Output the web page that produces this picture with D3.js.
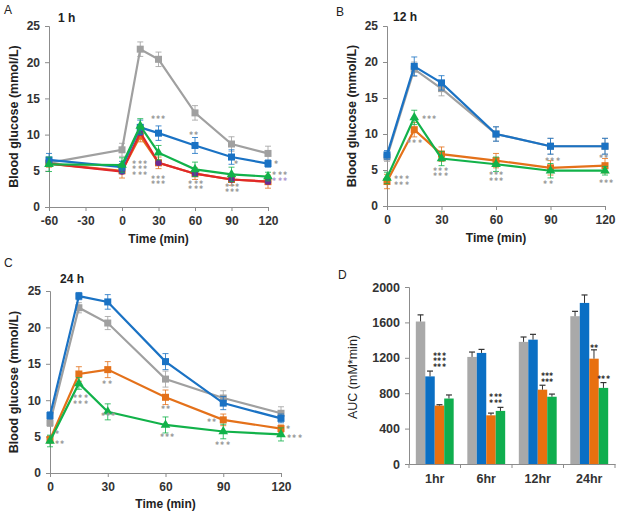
<!DOCTYPE html>
<html><head><meta charset="utf-8">
<script src="https://cdn.jsdelivr.net/npm/d3@7"></script>
<style>body{margin:0;background:#fff} text{font-family:"Liberation Sans",Arial,sans-serif}</style>
</head><body><svg id="c" width="620" height="518"></svg>
<script>
// ---------- DATA ----------
const timesA = [-60, 0, 15, 30, 60, 90, 120];
const timesBC = [0, 15, 30, 60, 90, 120];
const ticksA = [-60, -30, 0, 30, 60, 90, 120];
const ticksBC = [0, 30, 60, 90, 120];
const ticksGlucose = [0, 5, 10, 15, 20, 25];

const A_gray   = [6.1, 7.9, 21.8, 20.4, 13.0, 8.7, 7.4];
const A_blue   = [6.5, 5.5, 11.0, 10.2, 8.5, 6.9, 6.0];
const A_green  = [5.9, 5.8, 11.2, 7.5, 5.2, 4.5, 4.2];
const A_orange = [6.0, 5.0, 9.8, 6.1, 4.6, 3.8, 3.5];
const A_red    = [6.0, 4.9, 10.3, 6.1, 4.6, 3.8, 3.5];
const A_grayErr   = [0.0, 0.9, 1.0, 1.0, 1.0, 1.0, 1.0];
const A_blueErr   = [0.9, 0.8, 1.0, 1.0, 1.1, 1.0, 0.5];
const A_greenErr  = [1.0, 1.0, 1.0, 1.0, 1.0, 1.0, 0.6];
const A_orangeErr = [0.5, 1.0, 0.8, 0.8, 0.8, 0.8, 0.9];
const A_redErr    = [0.3, 0.3, 0.3, 0.3, 0.3, 0.3, 0.3];

const B_gray   = [6.8, 19.0, 16.3, 10.0, 8.3, 8.3];
const B_blue   = [7.1, 19.4, 17.1, 10.0, 8.3, 8.3];
const B_orange = [3.4, 10.6, 7.2, 6.3, 5.3, 5.6];
const B_green  = [3.9, 12.3, 6.6, 5.8, 4.9, 4.9];
const B_grayErr   = [0.6, 1.0, 1.0, 1.0, 1.1, 1.1];
const B_blueErr   = [0.6, 1.3, 1.0, 1.0, 1.1, 1.1];
const B_orangeErr = [1.0, 1.0, 1.0, 1.0, 1.0, 1.0];
const B_greenErr  = [0.8, 1.0, 1.0, 1.0, 1.0, 0.6];

const C_gray   = [6.9, 22.7, 20.6, 12.9, 10.3, 8.2];
const C_blue   = [7.9, 24.3, 23.5, 15.3, 9.6, 7.5];
const C_orange = [4.6, 13.6, 14.2, 10.4, 7.3, 6.1];
const C_green  = [4.4, 12.3, 8.4, 6.6, 5.7, 5.3];
const C_grayErr   = [0.5, 0.7, 0.9, 1.1, 1.0, 0.9];
const C_blueErr   = [0.5, 0.5, 1.0, 1.1, 0.9, 0.6];
const C_orangeErr = [0.5, 1.0, 1.1, 1.0, 0.8, 0.5];
const C_greenErr  = [0.8, 0.8, 1.1, 1.1, 1.0, 0.9];

// significance marks: [time, glucose of first row, rows]  (row = count or [count, "p"] for purple)
const A_marks = [[15,6.2,[3,3,3]],[30,12.3,[3]],[30,4.1,[3,3]],
  [59,10.2,[2]],[61,3.4,[3,3]],[94,6.1,[1]],[91,3.0,[3,3]],
  [127,6.2,[1]],[130,4.6,[3,[3,"p"]]]];
const B_marks = [[23.4,12.3,[3]],[15.4,9.0,[3]],[8.3,3.9,[3,3]],[29.7,5.1,[3,3]],
  [60.5,4.5,[3,3]],[91.4,6.5,[3]],[89,3.2,[2]],[119.5,6.9,[2]],[121,3.4,[3]]];
const C_marks = [[4.2,5.5,[1]],[5.2,4.25,[2]],[16.1,10.5,[3,3]],[29.9,12.5,[2]],[30.6,8.0,[3]],
  [60.3,9.0,[2]],[61,5.15,[3]],[84.2,7.2,[2]],[89.9,4.0,[3]],[124.2,6.25,[1]],[127.3,5.0,[3]]];

const aucCats = ["1hr", "6hr", "12hr", "24hr"];
const aucGray   = [1610, 1210, 1380, 1670];
const aucBlue   = [990, 1255, 1405, 1820];
const aucOrange = [660, 550, 840, 1190];
const aucGreen  = [740, 600, 760, 860];
const aucGrayErr   = [75, 55, 55, 55];
const aucBlueErr   = [60, 40, 60, 90];
const aucOrangeErr = [10, 25, 50, 100];
const aucGreenErr  = [40, 40, 30, 60];
const aucTicks = [0, 400, 800, 1200, 1600, 2000];
// [category, bar slot (0..3), value of first row, rows]
const aucMarks = [["1hr",2,1242,[3,3,3]],["6hr",2.5,773,[3,3]],
  ["12hr",2.5,1007,[3,3]],["24hr",2,1328,[2]],["24hr",3,977,[3]]];

// ---------- STYLE ----------
const COL = {gray:"#a0a0a0", blue:"#1a72c4", orange:"#e4711a", green:"#12b24a", red:"#e0282a", purple:"#6a2c96"};
const BAR = {gray:"#a9a9a9", blue:"#0a6fc4", orange:"#e8700f", green:"#0fae4e"};
const AX = "#8c8c8c", TXT = "#333";
const STAR = "\u2731";

const svg = d3.select("#c");

function styleAxis(g){
  g.selectAll("path.domain").attr("stroke", AX).attr("stroke-width", 1);
  g.selectAll(".tick line").attr("stroke", AX);
  g.selectAll(".tick text").attr("fill", TXT).attr("font-weight", "bold")
   .attr("font-size", 12).attr("font-family", '"Liberation Sans",Arial,sans-serif');
}

// stacked significance stars; x,y = centre of first row
function stack(x, y, rows, opts){
  rows.forEach((r, i) => {
    const n = Array.isArray(r) ? r[0] : r;
    svg.append("text").attr("x", x).attr("y", y + i * opts.gap).attr("text-anchor", "middle")
      .attr("dominant-baseline", "central")
      .attr("font-family", '"DejaVu Sans",sans-serif').attr("font-size", opts.size)
      .attr("letter-spacing", opts.ls)
      .attr("fill", Array.isArray(r) ? opts.purple : opts.color)
      .text(STAR.repeat(n));
  });
}

function linePanel(cfg){
  const x = d3.scaleLinear().domain(cfg.xDomain).range([cfg.left, cfg.right]);
  const y = d3.scaleLinear().domain([0, 25]).range([cfg.bottom, cfg.top]);
  const gx = svg.append("g").attr("transform", `translate(0,${cfg.bottom})`)
    .call(d3.axisBottom(x).tickValues(cfg.xTicks).tickSize(4).tickPadding(5).tickFormat(d => String(d)));
  styleAxis(gx);
  const gy = svg.append("g").attr("transform", `translate(${cfg.left},0)`)
    .call(d3.axisLeft(y).tickValues(ticksGlucose).tickSize(4).tickPadding(5).tickFormat(d => String(d)));
  styleAxis(gy);

  const line = d3.line().x(d => x(d[0])).y(d => y(d[1]));
  cfg.series.forEach(s => {
    const pts = cfg.times.map((t, i) => [t, s.vals[i], s.err[i]]);
    const g = svg.append("g");
    pts.forEach(p => {
      if (p[2] <= 0) return;
      const ec = s.errColor || s.line;
      g.append("line").attr("x1", x(p[0])).attr("x2", x(p[0])).attr("y1", y(p[1]-p[2])).attr("y2", y(p[1]+p[2]))
        .attr("stroke", ec).attr("stroke-width", 1).attr("opacity", 0.8);
      [p[1]-p[2], p[1]+p[2]].forEach(v => g.append("line").attr("x1", x(p[0])-3).attr("x2", x(p[0])+3)
        .attr("y1", y(v)).attr("y2", y(v)).attr("stroke", ec).attr("stroke-width", 1).attr("opacity", 0.8));
    });
    g.append("path").datum(pts).attr("d", line).attr("fill", "none").attr("stroke", s.line).attr("stroke-width", 2.2);
    const mk = s.marker || s.line;
    pts.forEach(p => {
      if (s.shape === "tri") {
        g.append("path").attr("d", d3.symbol(d3.symbolTriangle, 40)()).attr("transform", `translate(${x(p[0])},${y(p[1])})`).attr("fill", mk);
      } else if (s.shape === "circle") {
        g.append("circle").attr("cx", x(p[0])).attr("cy", y(p[1])).attr("r", 3.2).attr("fill", mk);
      } else {
        g.append("rect").attr("x", x(p[0])-3.5).attr("y", y(p[1])-3.5).attr("width", 7).attr("height", 7).attr("fill", mk);
      }
    });
  });
  cfg.marks.forEach(m => stack(x(m[0]), y(m[1]), m[2],
    {size: 4.6, ls: 1.2, color: "#9a9a9a", purple: "#b098d0", gap: 5.6}));

  svg.append("text").attr("x", cfg.labelX).attr("y", cfg.labelY).attr("font-size", 12).attr("fill", "#222").text(cfg.label);
  svg.append("text").attr("x", cfg.titleX).attr("y", cfg.titleY).attr("font-size", 12).attr("font-weight", "bold").attr("fill", "#222").text(cfg.title);
  svg.append("text").attr("transform", `translate(${cfg.yTitleX},${(cfg.top+cfg.bottom)/2}) rotate(-90)`)
    .attr("text-anchor", "middle").attr("font-size", 12.5).attr("font-weight", "bold").attr("fill", "#222").text("Blood glucose (mmol/L)");
  svg.append("text").attr("x", (cfg.left+cfg.right)/2).attr("y", cfg.xTitleY).attr("text-anchor", "middle")
    .attr("font-size", 12).attr("font-weight", "bold").attr("fill", "#222").text("Time (min)");
}

linePanel({
  left: 49, right: 268, top: 26, bottom: 207, xDomain: [-60, 120], xTicks: ticksA, times: timesA,
  series: [
    {vals: A_gray, err: A_grayErr, line: COL.gray},
    {vals: A_orange, err: A_orangeErr, line: COL.orange},
    {vals: A_red, err: A_redErr, line: COL.red, marker: COL.purple, shape: "circle"},
    {vals: A_blue, err: A_blueErr, line: COL.blue},
    {vals: A_green, err: A_greenErr, line: COL.green, shape: "tri"}
  ],
  marks: A_marks,
  label: "A", labelX: 4, labelY: 14, title: "1 h", titleX: 58, titleY: 22, yTitleX: 18, xTitleY: 243
});

linePanel({
  left: 387, right: 605, top: 26, bottom: 206, xDomain: [0, 120], xTicks: ticksBC, times: timesBC,
  series: [
    {vals: B_gray, err: B_grayErr, line: COL.gray},
    {vals: B_blue, err: B_blueErr, line: COL.blue},
    {vals: B_orange, err: B_orangeErr, line: COL.orange},
    {vals: B_green, err: B_greenErr, line: COL.green, shape: "tri"}
  ],
  marks: B_marks,
  label: "B", labelX: 336, labelY: 16, title: "12 h", titleX: 393, titleY: 21, yTitleX: 356, xTitleY: 242
});

linePanel({
  left: 50, right: 281, top: 291, bottom: 473, xDomain: [0, 120], xTicks: ticksBC, times: timesBC,
  series: [
    {vals: C_gray, err: C_grayErr, line: COL.gray},
    {vals: C_blue, err: C_blueErr, line: COL.blue},
    {vals: C_orange, err: C_orangeErr, line: COL.orange},
    {vals: C_green, err: C_greenErr, line: COL.green, shape: "tri"}
  ],
  marks: C_marks,
  label: "C", labelX: 4, labelY: 267, title: "24 h", titleX: 60, titleY: 283, yTitleX: 18, xTitleY: 508
});

// ---------- Panel D ----------
(function(){
  const left = 409, right = 615, top = 287, bottom = 464;
  const x = d3.scaleBand().domain(aucCats).range([left, right]).paddingInner(0).paddingOuter(0);
  const groups = ["gray", "blue", "orange", "green"];
  const vals = {gray: aucGray, blue: aucBlue, orange: aucOrange, green: aucGreen};
  const errs = {gray: aucGrayErr, blue: aucBlueErr, orange: aucOrangeErr, green: aucGreenErr};
  const xs = d3.scaleBand().domain(d3.range(4)).range([0, x.bandwidth()]).paddingOuter(0.72).paddingInner(0);
  const y = d3.scaleLinear().domain([0, 2000]).range([bottom, top]);

  const gy = svg.append("g").attr("transform", `translate(${left},0)`)
    .call(d3.axisLeft(y).tickValues(aucTicks).tickSize(4).tickPadding(5).tickFormat(d => String(d)));
  styleAxis(gy);
  gy.selectAll(".tick text").attr("font-size", 12.5);

  groups.forEach((gname, gi) => {
    aucCats.forEach((c, ci) => {
      const v = vals[gname][ci], e = errs[gname][ci];
      const bx = x(c) + xs(gi), bw = xs.bandwidth();
      svg.append("rect").attr("x", bx).attr("y", y(v)).attr("width", bw).attr("height", y(0) - y(v)).attr("fill", BAR[gname]);
      const cx = bx + bw/2;
      svg.append("line").attr("x1", cx).attr("x2", cx).attr("y1", y(v)).attr("y2", y(v+e)).attr("stroke", "#333").attr("stroke-width", 1);
      svg.append("line").attr("x1", cx-3).attr("x2", cx+3).attr("y1", y(v+e)).attr("y2", y(v+e)).attr("stroke", "#333").attr("stroke-width", 1.2);
    });
  });

  const gx = svg.append("g").attr("transform", `translate(0,${bottom})`)
    .call(d3.axisBottom(x).tickSize(0).tickPadding(10));
  styleAxis(gx);
  gx.selectAll(".tick text").attr("font-size", 12.5);
  aucCats.forEach(c => svg.append("line").attr("x1", x(c)).attr("x2", x(c)).attr("y1", bottom).attr("y2", bottom+4).attr("stroke", AX));
  svg.append("line").attr("x1", right).attr("x2", right).attr("y1", bottom).attr("y2", bottom+4).attr("stroke", AX);

  aucMarks.forEach(m => {
    const cx = x(m[0]) + xs(0) + xs.bandwidth() * (m[1] + 0.5);
    stack(cx, y(m[2]), m[3], {size: 4.6, ls: 0.3, color: "#333", gap: 5.8});
  });

  svg.append("text").attr("x", 338).attr("y", 279).attr("font-size", 12).attr("fill", "#222").text("D");
  svg.append("text").attr("transform", `translate(357,377) rotate(-90)`).attr("text-anchor", "middle")
    .attr("font-size", 12.5).attr("fill", "#222").text("AUC (mM*min)");
})();
</script></body></html>
